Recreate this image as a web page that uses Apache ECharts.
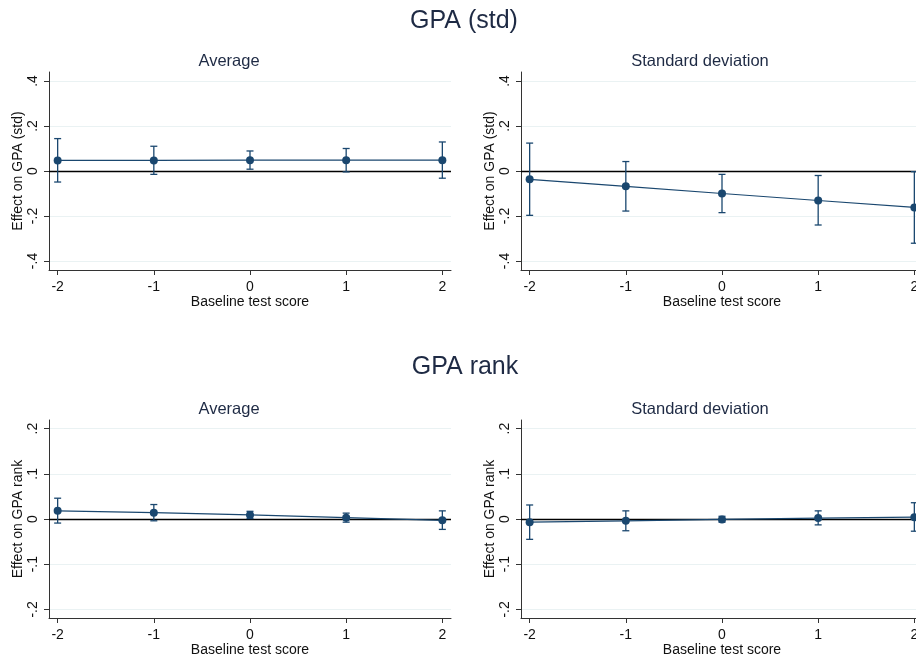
<!DOCTYPE html>
<html>
<head>
<meta charset="utf-8">
<script src="https://cdn.jsdelivr.net/npm/echarts@6/dist/echarts.min.js"></script>
<style>
    html, body { margin: 0; padding: 0; background: #fff; }
    #main { width: 916px; height: 660px; }
</style>
</head>
<body>
<div id="main"></div>
<script>
// data
var scores = [-2, -1, 0, 1, 2];
var xTicks = [-2, -1, 0, 1, 2];
var yTicksStd = [-0.4, -0.2, 0, 0.2, 0.4];
var yTicksRank = [-0.2, -0.1, 0, 0.1, 0.2];

// GPA (std) - average
var stdAvg = [0.047, 0.047, 0.048, 0.048, 0.048];
var stdAvgLo = [-0.049, -0.015, 0.008, -0.004, -0.032];
var stdAvgHi = [0.144, 0.110, 0.089, 0.100, 0.129];
// GPA (std) - standard deviation
var stdSd = [-0.037, -0.068, -0.100, -0.131, -0.162];
var stdSdLo = [-0.197, -0.178, -0.185, -0.240, -0.321];
var stdSdHi = [0.124, 0.042, -0.015, -0.020, -0.003];
// GPA rank - average
var rankAvg = [0.018, 0.014, 0.009, 0.003, -0.003];
var rankAvgLo = [-0.009, -0.004, 0.001, -0.007, -0.023];
var rankAvgHi = [0.046, 0.032, 0.017, 0.013, 0.018];
// GPA rank - standard deviation
var rankSd = [-0.007, -0.004, -0.001, 0.002, 0.004];
var rankSdLo = [-0.045, -0.026, -0.007, -0.013, -0.027];
var rankSdHi = [0.031, 0.018, 0.006, 0.018, 0.036];

var NAVY = '#1a476f';
var FONT = 'Liberation Sans, Arial, sans-serif';

function fmtY(v) {
    if (v == 0) return '0';
    return String(v).replace('0.', '.');
}

function pairs(ys) {
    return scores.map(function (x, i) { return [x, ys[i]]; });
}

function bars(lo, hi) {
    return scores.map(function (x, i) { return [x, lo[i], hi[i]]; });
}

// error bar with caps
function renderBar(params, api) {
    var top = api.coord([api.value(0), api.value(2)]);
    var bot = api.coord([api.value(0), api.value(1)]);
    var w = 3.5;
    var st = { stroke: NAVY, lineWidth: 1.3 };
    return {
        type: 'group',
        children: [
            { type: 'line', shape: { x1: top[0], y1: top[1], x2: bot[0], y2: bot[1] }, style: st },
            { type: 'line', shape: { x1: top[0] - w, y1: top[1], x2: top[0] + w, y2: top[1] }, style: st },
            { type: 'line', shape: { x1: bot[0] - w, y1: bot[1], x2: bot[0] + w, y2: bot[1] }, style: st }
        ]
    };
}

// right-hand panels run off the page edge like in the original
var grids = [
    { left: 49, top: 72, width: 402, height: 198, outerBoundsMode: 'none' },
    { left: 521, top: 72, width: 402, height: 198, outerBoundsMode: 'none' },
    { left: 49, top: 420, width: 402, height: 198, outerBoundsMode: 'none' },
    { left: 521, top: 420, width: 402, height: 198, outerBoundsMode: 'none' }
];

var xAxes = [], yAxes = [], series = [];
var panels = [
    { y: stdAvg, lo: stdAvgLo, hi: stdAvgHi, ticks: yTicksStd, lim: 0.44, name: 'Effect on GPA (std)' },
    { y: stdSd, lo: stdSdLo, hi: stdSdHi, ticks: yTicksStd, lim: 0.44, name: 'Effect on GPA (std)' },
    { y: rankAvg, lo: rankAvgLo, hi: rankAvgHi, ticks: yTicksRank, lim: 0.219, name: 'Effect on GPA rank' },
    { y: rankSd, lo: rankSdLo, hi: rankSdHi, ticks: yTicksRank, lim: 0.219, name: 'Effect on GPA rank' }
];

panels.forEach(function (p, i) {
    xAxes.push({
        gridIndex: i,
        type: 'value',
        min: -2.09,
        max: 2.09,
        name: 'Baseline test score',
        nameLocation: 'middle',
        nameGap: 24,
        nameTextStyle: { fontSize: 14, color: '#111', fontFamily: FONT },
        axisLine: { onZero: false, lineStyle: { color: '#333', width: 1 } },
        axisTick: { show: true, length: 5, customValues: xTicks, lineStyle: { color: '#333' } },
        axisLabel: { customValues: xTicks, margin: 10, fontSize: 14, color: '#111', fontFamily: FONT },
        splitLine: { show: false }
    });
    yAxes.push({
        gridIndex: i,
        type: 'value',
        min: -p.lim,
        max: p.lim,
        name: p.name,
        nameLocation: 'middle',
        nameGap: 24,
        nameTextStyle: { fontSize: 14, color: '#111', fontFamily: FONT },
        axisLine: { show: true, onZero: false, lineStyle: { color: '#333', width: 1 } },
        axisTick: { show: true, length: 5, customValues: p.ticks, lineStyle: { color: '#333' } },
        axisLabel: { customValues: p.ticks, rotate: 90, margin: 9, fontSize: 14, color: '#111', fontFamily: FONT, formatter: fmtY },
        splitLine: { show: true, lineStyle: { color: '#eaf2f3', width: 1 } }
    });
    series.push({
        type: 'custom',
        xAxisIndex: i,
        yAxisIndex: i,
        renderItem: renderBar,
        data: bars(p.lo, p.hi),
        z: 3
    });
    series.push({
        type: 'line',
        xAxisIndex: i,
        yAxisIndex: i,
        data: pairs(p.y),
        symbol: 'circle',
        symbolSize: 8,
        showSymbol: true,
        lineStyle: { color: NAVY, width: 1.2 },
        itemStyle: { color: NAVY },
        z: 4,
        markLine: {
            silent: true,
            symbol: 'none',
            label: { show: false },
            lineStyle: { color: '#000', width: 1.3, type: 'solid' },
            data: [{ yAxis: 0 }],
            z: 2
        }
    });
});

function label(text, x, y, size) {
    return {
        type: 'text',
        x: x,
        y: y,
        style: {
            text: text,
            fill: '#1e2a44',
            font: size + 'px ' + FONT,
            textAlign: 'center',
            textVerticalAlign: 'middle'
        }
    };
}

var chart = echarts.init(document.getElementById('main'));
chart.setOption({
    backgroundColor: '#fff',
    animation: false,
    grid: grids,
    xAxis: xAxes,
    yAxis: yAxes,
    series: series,
    graphic: [
        label('GPA (std)', 464, 21, 25),
        label('Average', 229, 61, 16.5),
        label('Standard deviation', 700, 61, 16.5),
        label('GPA rank', 465, 367, 25),
        label('Average', 229, 409, 16.5),
        label('Standard deviation', 700, 409, 16.5)
    ]
});
</script>
</body>
</html>
